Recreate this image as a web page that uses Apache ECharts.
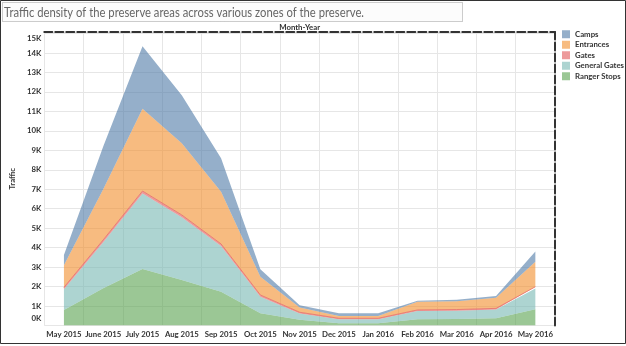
<!DOCTYPE html>
<html>
<head>
<meta charset="utf-8">
<script src="https://cdn.jsdelivr.net/npm/echarts@6/dist/echarts.min.js"></script>
<style>
  html, body { margin: 0; padding: 0; background: #fff; }
  #chart { width: 626px; height: 346px; }
</style>
</head>
<body>
<div id="chart"></div>
<script>
// Month-Year categories
const months = ['May 2015', 'June 2015', 'July 2015', 'Aug 2015', 'Sep 2015', 'Oct 2015',
  'Nov 2015', 'Dec 2015', 'Jan 2016', 'Feb 2016', 'Mar 2016', 'Apr 2016', 'May 2016'];

// Traffic per zone type, stacked bottom to top
const rangerStops  = [800, 1910, 2900, 2340, 1740, 630, 300, 110, 110, 320, 330, 370, 830];
const generalGates = [1060, 2370, 3880, 3220, 2340, 850, 320, 210, 210, 420, 430, 450, 1070];
const gates        = [100, 120, 130, 120, 110, 90, 60, 50, 50, 60, 60, 60, 90];
const entrances    = [1140, 2600, 4230, 3680, 2680, 930, 250, 120, 120, 420, 430, 550, 1290];
const camps        = [520, 2200, 3210, 2470, 1720, 390, 110, 140, 140, 50, 70, 90, 520];

// Axis settings
const yMax = 15080;
const yStep = 1000;
const legendOrder = ['Camps', 'Entrances', 'Gates', 'General Gates', 'Ranger Stops'];

const titleText = 'Traffic density of the preserve areas across various zones of the preserve.';

const labelFont = { fontFamily: 'Lato', fontWeight: 'bold', fontSize: 7.8, color: '#333' };

// Fit the title into its box width
const measureCtx = document.createElement('canvas').getContext('2d');
measureCtx.font = '13px Lato';
const titleScale = 360 / measureCtx.measureText(titleText).width;

function areaSeries(name, values, fill, solid, extraLine) {
  return {
    name: name,
    type: 'line',
    stack: 'traffic',
    data: values,
    symbol: 'none',
    smooth: false,
    silent: true,
    lineStyle: extraLine || { width: 0 },
    itemStyle: { color: solid },
    areaStyle: { color: fill, opacity: 1 },
    emphasis: { disabled: true }
  };
}

const dashed = { color: '#333', width: 2, type: [8, 3] };

const chart = echarts.init(document.getElementById('chart'), null, { renderer: 'canvas' });

chart.setOption({
  animation: false,
  backgroundColor: '#fff',
  grid: { left: 39, right: 71, top: 32, bottom: 20.5, containLabel: false },
  legend: {
    orient: 'vertical',
    left: 557,
    top: 24,
    data: legendOrder,
    icon: 'rect',
    itemWidth: 8,
    itemHeight: 8,
    itemGap: 0,
    textStyle: Object.assign({}, labelFont, { lineHeight: 10.5 }),
    selectedMode: false
  },
  xAxis: [
    {
      type: 'category',
      data: months,
      boundaryGap: true,
      position: 'bottom',
      axisLine: { show: false },
      axisTick: { show: false },
      axisLabel: Object.assign({}, labelFont, { margin: 5, interval: 0 }),
      splitLine: { show: true, lineStyle: { color: '#e6e6e6', width: 1 } }
    },
    {
      type: 'category',
      data: months,
      boundaryGap: true,
      position: 'top',
      name: 'Month-Year',
      nameLocation: 'middle',
      nameGap: 1,
      nameTextStyle: Object.assign({}, labelFont),
      axisLine: { show: true, onZero: false, lineStyle: dashed },
      axisTick: { show: false },
      axisLabel: { show: false },
      splitLine: { show: false }
    }
  ],
  yAxis: [
    {
      type: 'value',
      min: 0,
      max: yMax,
      interval: yStep,
      name: 'Traffic',
      nameLocation: 'middle',
      nameGap: 26,
      nameTextStyle: Object.assign({}, labelFont),
      axisLine: { show: false },
      axisTick: { show: false },
      axisLabel: Object.assign({}, labelFont, {
        margin: 3,
        formatter: function (v) {
          if (v % yStep !== 0) return '';
          const s = (v / 1000) + 'K';
          if (v === 15000) return '{hi|' + s + '}';
          if (v === 0) return '{lo|' + s + '}';
          return s;
        },
        rich: {
          hi: Object.assign({}, labelFont, { padding: [9, 0, 0, 0] }),
          lo: Object.assign({}, labelFont, { padding: [0, 0, 15, 0] })
        }
      }),
      splitLine: { show: true, lineStyle: { color: '#e6e6e6', width: 1 } }
    },
    {
      type: 'value',
      min: 0,
      max: yMax,
      interval: yStep,
      position: 'right',
      axisLine: { show: true, onZero: false, lineStyle: dashed },
      axisTick: { show: false },
      axisLabel: { show: false },
      splitLine: { show: false }
    }
  ],
  series: [
    areaSeries('Ranger Stops', rangerStops, 'rgba(89,161,79,0.6)', '#9bc795'),
    areaSeries('General Gates', generalGates, 'rgba(118,183,178,0.6)', '#add4d1'),
    areaSeries('Gates', gates, 'rgba(225,87,89,0.6)', '#ed9a9b',
      { width: 1, color: 'rgba(232,120,110,0.9)' }),
    areaSeries('Entrances', entrances, 'rgba(242,142,43,0.6)', '#f7bb80'),
    areaSeries('Camps', camps, 'rgba(78,121,167,0.6)', '#95afca')
  ],
  graphic: [
    {
      type: 'rect',
      shape: { x: 2.5, y: 2.5, width: 460, height: 19 },
      style: { fill: '#fcfcfc', stroke: '#9a9a9a', lineWidth: 1, lineDash: [1, 1] },
      z: 10
    },
    {
      type: 'text',
      x: 4,
      y: 12.5,
      scaleX: titleScale,
      style: { text: titleText, fontFamily: 'Lato', fontSize: 13, fill: '#666', verticalAlign: 'middle' },
      z: 11
    },
    {
      type: 'rect',
      shape: { x: 0.5, y: 0.5, width: 625, height: 343 },
      style: { fill: null, stroke: '#333', lineWidth: 1 },
      z: 12
    }
  ]
});
</script>
</body>
</html>
